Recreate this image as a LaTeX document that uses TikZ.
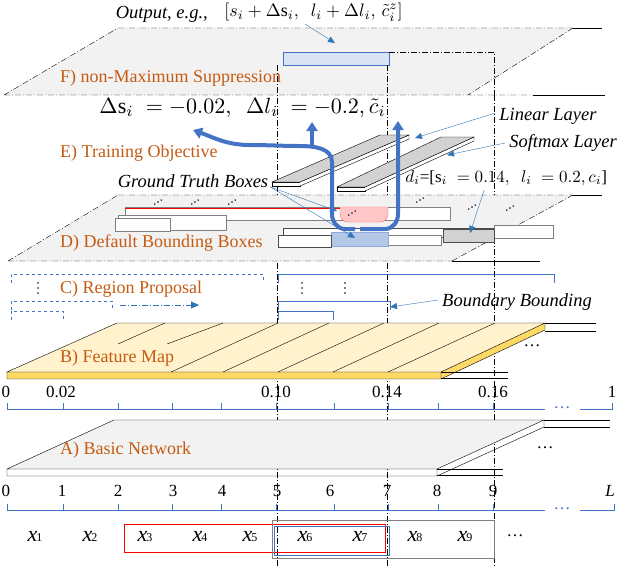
\documentclass[tikz,border=0pt]{standalone}
\usepackage{fontspec}
\setmainfont{Liberation Serif}
\usetikzlibrary{arrows.meta,calc}
\definecolor{org}{HTML}{C55A11}
\definecolor{bl}{HTML}{4472C4}
\definecolor{ab}{HTML}{2E75B6}
\definecolor{plane}{HTML}{F2F2F2}
\definecolor{fm}{HTML}{FFF2CC}
\definecolor{fmf}{HTML}{FFD966}
\begin{document}
\begin{tikzpicture}[x=1pt,y=-1pt,
 lab/.style={text=org,font=\fontsize{18}{18}\selectfont,anchor=west,inner sep=0},
 it/.style={font=\itshape\fontsize{18.5}{18}\selectfont,inner sep=0},
 num/.style={font=\fontsize{17}{17}\selectfont,inner sep=0},
 mth/.style={inner sep=0},
 xl/.style={font=\fontsize{22}{22}\selectfont,inner sep=0},
 dd/.style={dash pattern=on 6pt off 2pt on 1pt off 2pt,thin},
 arr/.style={ab,-{Triangle[length=7pt,width=6pt]},thin},
 big/.style={bl,line width=4pt,-{Triangle[length=9pt,width=11pt]}},
 box/.style={draw=gray,fill=white,thin}]
\path[use as bounding box] (0,0) rectangle (618,566);
% F plane
\fill[plane] (118,28)--(573,28)--(468,95)--(4,95)--cycle;
\draw[dd] (118,28)--(573,28) (4,95)--(118,28) (4,95)--(533,95) (573,28)--(468,95);
\draw[thin] (573,28)--(602,28) (533,95)--(605,95);
\node[box,draw=bl,fill=bl!20,line width=1.2pt,minimum width=106pt,minimum height=13pt,anchor=north west,inner sep=0] (fb) at (283,52) {};
\draw[dd,thick] (389,52)--(494,52)--(494,95);
\node[lab] (F) at (60,78) {F) non-Maximum Suppression};
\node[it,anchor=east] (out) at (208,14) {Output, e.g.,};
\node[mth,scale=1.8,anchor=west] (outm) at (224,12) {$[s_i+\Delta \mathrm{s}_i,\ \ l_i+\Delta l_i,\, \tilde c_i^z]$};
\coordinate (oa) at (305,24);
\draw[arr] (oa)--(335,43);
% verticals
\draw[dd] (277,65)--(277,566) (387,65)--(387,566) (494,95)--(494,566);
% E
\node[mth,scale=2.2,anchor=west] (del) at (99,108) {$\Delta \mathrm{s}_i\;=-0.02,\ \ \Delta l_i\;=-0.2,\tilde c_i$};
\node[lab] (E) at (60,153) {E) Training Objective};
% slabs
\draw[fill=white] (272,182)--(300,182)--(300,186)--(272,186)--cycle;
\draw[fill=white] (300,182)--(409,135)--(409,139)--(300,186);
\draw[fill=gray!35] (272,182)--(380,135)--(409,135)--(300,182)--cycle;
\draw[fill=white] (337,187)--(365,187)--(365,191)--(337,191)--cycle;
\draw[fill=white] (365,187)--(474,137)--(474,141)--(365,191);
\draw[fill=gray!35] (337,187)--(441,137)--(474,137)--(365,187)--cycle;
\node[it] (ll) at (548,116) {Linear Layer};
\node[it] (sl) at (563,143) {Softmax Layer};
\draw[arr] (ll.west)++(-4,-3) -- (415,138);
\draw[arr] (sl.west)++(-4,0) -- (447,155);
\node[it] (gt) at (193,181) {Ground Truth Boxes};
\node[mth,scale=1.7,anchor=west] (di) at (405,178) {$d_i$=[$\mathrm{s}_i\;=0.14,\ \ l_i\;=0.2,c_i$]};
% D plane
\fill[plane] (118,195)--(573,195)--(452,261)--(8,261)--cycle;
\draw[dd] (118,195)--(573,195) (8,261)--(118,195) (8,261)--(452,261) (573,195)--(452,261);
\draw[thin] (573,195)--(602,195) (452,261)--(540,261);
\draw[box] (125,207) rectangle (450,220);
\draw[red,thin] (125,208)--(345,208);
\draw[red!60,fill=red!22] (340,207)--(388,207)--(388,214) to[out=-90,in=0] (380,222)--(348,222) to[out=180,in=-90] (340,214)--cycle;
\draw[box] (118,215) rectangle (226,230);
\draw[box] (115,218) rectangle (170,231);
\draw[box,draw=black!70,thick] (283,228) rectangle (494,237);
\draw[box] (494,225) rectangle (553,238);
\draw[box,draw=black!70,fill=gray!35] (443,229) rectangle (494,242);
\draw[box] (280,235) rectangle (441,245);
\draw[draw=bl!60,fill=bl!40] (331,232) rectangle (388,246);
\draw[box,draw=black!70] (278,235) rectangle (331,247);
\foreach \a/\b in {158/202,195/202,232/202,420/200,472/207,510/208,352/213}
 \foreach \k in {-2,0,2} \fill (\a+\k*1.6,\b-\k) circle (0.8);
\node[lab] (D) at (60,243) {D) Default Bounding Boxes};
\draw[arr] (gt.east)++(2,6) -- (337,211);
\draw[arr] (gt.east)++(2,6) -- (355,238);
\draw[arr] (di.south)++(-22,4) -- (470,233);
% big arrows
\draw[big] (355,229)--(345,229) to[out=180,in=-90] (332,214)--(332,162) to[out=90,in=0] (300,146) to[out=180,in=0] (250,145) to[out=180,in=-20] (193,130);
\draw[big] (312,146)--(312,122);
\draw[big] (360,229)--(385,229) to[out=0,in=-90] (398,214)--(398,121);
% C
\node[lab] (C) at (60,289) {C) Region Proposal};
\draw[bl,thin] (278,283)--(278,274)--(554,274)--(554,283);
\draw[bl,thin] (278,310)--(278,301)--(390,301)--(390,310);
\draw[bl,thin] (278,320)--(278,311)--(333,311)--(333,320);
\draw[bl,thin,dashed] (11,283)--(11,274)--(263,274)--(263,283);
\draw[bl,thin,dashed] (11,310)--(11,301)--(112,301)--(112,310);
\draw[bl,thin,dashed] (11,320)--(11,311)--(63,311)--(63,320);
\draw[ab,dd,-{Triangle[length=8pt,width=7pt]}] (120,305)--(199,305);
\foreach \x in {38,302,345} \foreach \k in {-1,0,1} \fill (\x,288+\k*5) circle (0.8);
\node[it] (bb) at (517,302) {Boundary Bounding};
\draw[arr] (bb.west)++(-4,-2) -- (390,307);
% B feature map
\fill[fm] (7,372)--(117,323)--(545,323)--(441,372)--cycle;
\fill[fmf] (7,372) rectangle (441,379);
\fill[fmf] (441,372)--(545,323)--(545,330)--(441,379)--cycle;
\draw (7,372)--(117,323)--(545,323)--(441,372)--cycle (7,372)--(7,379)--(441,379)--(441,372) (441,379)--(545,330)--(545,323);
\draw (545,323)--(596,323) (545,331)--(596,331) (441,372)--(508,372) (441,378)--(508,378);
\draw (118,344)--(165,323) (167,344)--(223,323) (171,372)--(278,323) (223,372)--(329,323) (278,372)--(384,323) (333,372)--(439,323) (388,372)--(495,323);
\node[lab] (B) at (60,358) {B) Feature Map};
\node[num] at (532,346) {\dots};
% middle axis
\foreach \x/\t in {6/0,61/0.02,276/0.10,387/0.14,493/0.16,612/1} \node[num] at (\x,392) {\t};
\draw[bl,thin] (7,403)--(7,409)--(545,409) (580,409)--(612,409)--(612,403);
\foreach \x in {63,118,172,221,276,334,388,438,493} \draw[bl,thin] (\x,409)--(\x,403);
\node[num,text=bl] at (562,408) {\dots};
% A basic network
\fill[plane] (7,469)--(114,420)--(544,420)--(437,469)--cycle;
\draw (7,469)--(114,420)--(544,420)--(437,469)--cycle (7,469)--(7,476)--(437,476)--(437,469) (437,476)--(544,427)--(544,420);
\draw (544,420)--(610,420) (544,427)--(610,427) (437,469)--(503,469) (437,475)--(503,475);
\node[lab] (A) at (60,450) {A) Basic Network};
\node[num] at (545,448) {\dots};
% bottom axis
\foreach \x/\t in {6/0,62/1,118/2,173/3,222/4,277/5,330/6,387/7,437/8,493/9} \node[num] at (\x,491) {\t};
\node[num,font=\itshape\fontsize{17}{17}\selectfont] at (610,491) {L};
\draw[bl,thin] (7,504)--(7,510)--(545,510) (580,510)--(614,510)--(614,504);
\foreach \x in {63,118,172,221,276,334,388,438,493} \draw[bl,thin] (\x,510)--(\x,504);
\node[num,text=bl] at (562,509) {\dots};
% x row
\foreach \x/\i in {35/1,90/2,145/3,200/4,250/5,305/6,360/7,415/8,465/9} \node[xl] at (\x,536) {\textit{x}\kern-1pt{\fontsize{12}{12}\selectfont\i}};
\node[num] at (515,536) {\dots};
\draw[red,thick] (124,524) rectangle (385,552);
\draw[gray,thick] (272,520) rectangle (494,558);
\draw[bl,thick] (274,526) rectangle (389,555);
\end{tikzpicture}
\end{document}
